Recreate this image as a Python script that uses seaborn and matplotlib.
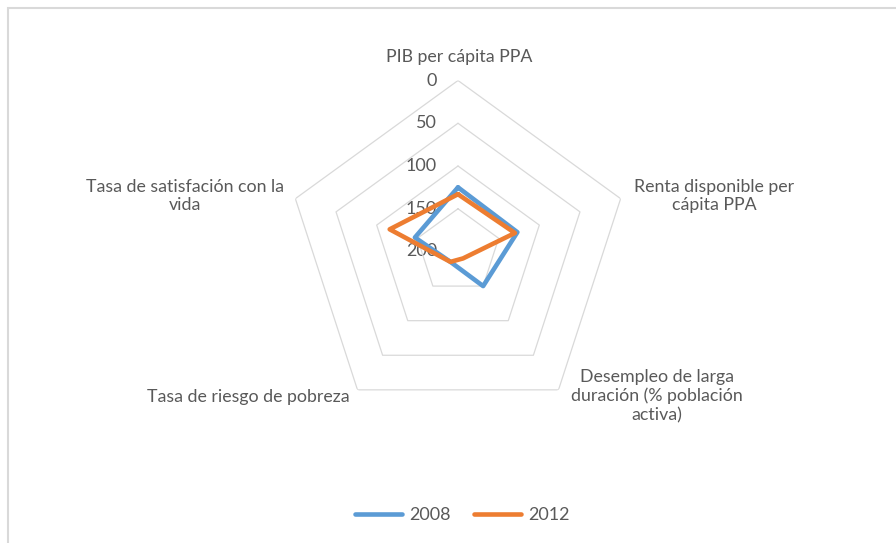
import numpy as np
import pandas as pd
import seaborn as sns
import matplotlib.pyplot as plt
from matplotlib.transforms import offset_copy
from matplotlib.lines import Line2D
from matplotlib.patches import Rectangle

# indicators (clockwise from top) and values (axis reversed: 0 outside, 200 centre)
indicadores = ["PIB per cápita PPA",
               "Renta disponible per\ncápita PPA",
               "Desempleo de larga\nduración (% población\nactiva)",
               "Tasa de riesgo de pobreza",
               "Tasa de satisfación con la\nvida"]
valores_2008 = [125, 127, 150, 185, 147]
valores_2012 = [133, 130, 190, 185, 116]
years = ["2008", "2012"]
ticks = [0, 50, 100, 150, 200]

colores = {"2008": "#5B9BD5", "2012": "#ED7D31"}
gris = "#595959"

sns.set_style("white")
plt.rcParams['font.family'] = ['Lato', 'DejaVu Sans']

angles = np.linspace(0, 2 * np.pi, len(indicadores), endpoint=False)

# long table, each series closed back to its first point
rows = []
for year, vals in zip(years, [valores_2008, valores_2012]):
    for a, v in zip(np.append(angles, 2 * np.pi), vals + vals[:1]):
        rows.append({"year": year, "theta": a, "value": v})
df = pd.DataFrame(rows)

W, H = 896, 543
fig = plt.figure(figsize=(W / 100, H / 100), dpi=100)

# chart frame (cropped screenshot: only top and left edges visible)
fig.patches.append(Rectangle((8 / W, -0.1), 1.2, 1 - 8 / H + 0.1, transform=fig.transFigure,
                             fill=False, edgecolor="#d9d9d9", lw=1.5))

cx, cy, R = 458, 251.5, 171
ax = fig.add_axes([(cx - R) / W, (H - cy - R) / H, 2 * R / W, 2 * R / H], polar=True)
ax.set_theta_offset(np.pi / 2)
ax.set_theta_direction(-1)
ax.set_ylim(200, 0)
ax.set_facecolor("none")
ax.grid(False)
ax.spines["polar"].set_visible(False)
ax.set_xticks([])
ax.set_yticks([])

# pentagonal grid rings
ring_theta = np.append(angles, angles[0])
for t in ticks[:-1]:
    ax.plot(ring_theta, [t] * len(ring_theta), color="#d9d9d9", lw=0.9, zorder=1)

sns.lineplot(data=df, x="theta", y="value", hue="year", palette=colores, sort=False,
             lw=3.3, ax=ax, legend=False, solid_joinstyle="round", solid_capstyle="round",
             estimator=None, zorder=3)
ax.set_xlabel("")
ax.set_ylabel("")

# radial tick labels to the left of the top spoke
tr = offset_copy(ax.transData, fig=fig, x=-21, y=0, units="dots")
for t in ticks:
    ax.text(0, t, str(t), transform=tr, ha="right", va="center", fontsize=13, color=gris, zorder=0)

# category labels
label_pos = [(459, 57), (714, 196), (657, 396), (248, 397), (185, 196)]
for lab, (px, py) in zip(indicadores, label_pos):
    fig.text(px / W, 1 - py / H, lab, ha="center", va="center", fontsize=12.8, color=gris,
             linespacing=1.2, multialignment="center")

handles = [Line2D([], [], color=colores[y], lw=3.3, solid_capstyle="round") for y in years]
leg = fig.legend(handles, years, loc="center", bbox_to_anchor=(462 / W, 1 - 515 / H), ncol=2,
                 frameon=False, fontsize=13, handlelength=2.6, handletextpad=0.4, columnspacing=1.3)
for txt in leg.get_texts():
    txt.set_color(gris)

fig.savefig("out.png", dpi=100)
